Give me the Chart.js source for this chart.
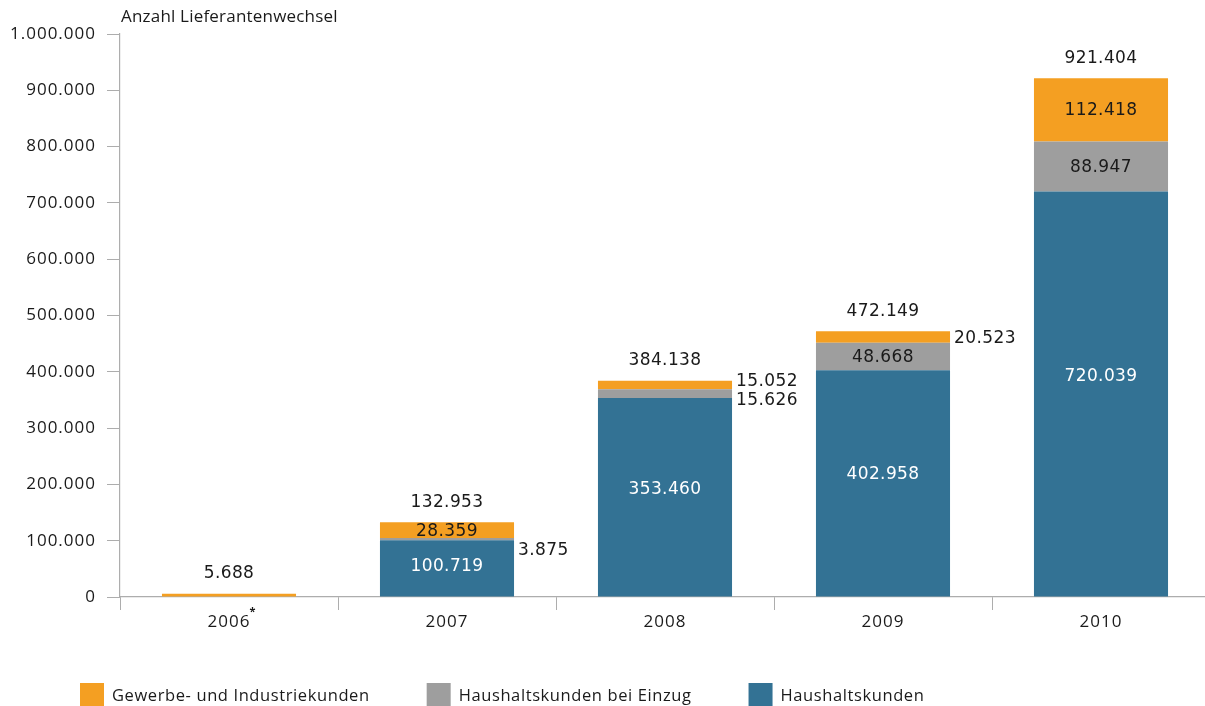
<!DOCTYPE html>
<html><head><meta charset="utf-8">
<script src="https://cdn.jsdelivr.net/npm/chart.js@4.4.1/dist/chart.umd.min.js"></script>
<style>
html,body{margin:0;padding:0;overflow:hidden;background:#fff;}
#wrap{width:1212px;height:706px;}
</style></head><body>
<div id="wrap"><canvas id="c" width="1212" height="706"></canvas></div>
<script>
const categories = ['2006', '2007', '2008', '2009', '2010'];
const categoryNotes = ['*', '', '', '', ''];
const haushaltskunden = [0, 100719, 353460, 402958, 720039];
const haushaltskundenEinzug = [0, 3875, 15626, 48668, 88947];
const gewerbeIndustrie = [5688, 28359, 15052, 20523, 112418];
const totals = [5688, 132953, 384138, 472149, 921404];
const yTickLabels = ['0', '100.000', '200.000', '300.000', '400.000', '500.000', '600.000', '700.000', '800.000', '900.000', '1.000.000'];
const seriesNames = ['Haushaltskunden', 'Haushaltskunden bei Einzug', 'Gewerbe- und Industriekunden'];
const axisTitle = 'Anzahl Lieferantenwechsel';

const COL_BLUE = '#337294', COL_GRAY = '#9e9e9e', COL_ORANGE = '#f49f22';
const AXIS_COL = '#adadad';
const SANS = '"Open Sans", "Noto Sans", sans-serif';
const VAL_FONT = '17px "DejaVu Sans", sans-serif';

function fmt(n) { return String(n).replace(/\B(?=(\d{3})+(?!\d))/g, '.'); }

const spacingPlugin = {
  id: 'spacing',
  beforeDraw(chart) { chart.ctx.letterSpacing = '1px'; },
  afterDraw(chart) { chart.ctx.letterSpacing = '0px'; }
};

const decorPlugin = {
  id: 'decor',
  afterDraw(chart, args, opts) {
    const ctx = chart.ctx;
    const ca = chart.chartArea;
    ctx.save();
    // axis title
    ctx.letterSpacing = '0.2px';
    ctx.fillStyle = '#1a1a1a';
    ctx.font = '17px ' + SANS;
    ctx.textAlign = 'left';
    ctx.textBaseline = 'middle';
    ctx.fillText(axisTitle, ca.left + 1, 17);
    // footnote marks on category labels
    const xs = chart.scales.x;
    ctx.letterSpacing = '1px';
    ctx.font = '17px ' + SANS;
    categories.forEach((c, i) => {
      if (!categoryNotes[i]) return;
      const w = ctx.measureText(c).width;
      const px = xs.getPixelForValue(i);
      ctx.save();
      ctx.font = 'bold 11px ' + SANS;
      ctx.letterSpacing = '0px';
      ctx.fillText(categoryNotes[i], px + w / 2 - 1, 612);
      ctx.restore();
    });
    // legend (order: top of stack first)
    ctx.letterSpacing = '0.6px';
    ctx.font = '16.5px ' + SANS;
    let x = 80;
    const order = [2, 1, 0];
    order.forEach(di => {
      const ds = chart.data.datasets[di];
      ctx.fillStyle = ds.backgroundColor;
      ctx.fillRect(x, 683, 24, 24);
      ctx.fillStyle = '#1a1a1a';
      ctx.textAlign = 'left';
      ctx.textBaseline = 'middle';
      ctx.fillText(ds.label, x + 32, 696);
      x += 32 + ctx.measureText(ds.label).width + 57;
    });
    ctx.restore();
  }
};

const valuePlugin = {
  id: 'values',
  afterDatasetsDraw(chart, args, opts) {
    const ctx = chart.ctx;
    ctx.save();
    ctx.font = VAL_FONT;
    ctx.letterSpacing = '0.4px';
    ctx.textBaseline = 'middle';
    const nCat = categories.length;
    for (let ci = 0; ci < nCat; ci++) {
      const nonzero = chart.data.datasets.filter(d => d.data[ci] > 0).length;
      const outside = [];
      let topY = Infinity, cx = 0, right = 0;
      chart.data.datasets.forEach((ds, di) => {
        const el = chart.getDatasetMeta(di).data[ci];
        const v = ds.data[ci];
        if (!v) return;
        const top = Math.min(el.y, el.base), bot = Math.max(el.y, el.base);
        topY = Math.min(topY, top);
        cx = el.x; right = el.x + el.width / 2;
        if (nonzero < 2) return;
        const h = bot - top;
        if (h >= 14) {
          const frac = di === 0 ? 0.545 : 0.5;
          ctx.fillStyle = di === 0 ? '#ffffff' : '#1a1a1a';
          ctx.textAlign = 'center';
          ctx.fillText(fmt(v), el.x, bot - h * frac + 1);
        } else {
          outside.push({ v, y: (top + bot) / 2 });
        }
      });
      // spread outside labels
      if (outside.length) {
        outside.sort((a, b) => b.y - a.y);
        const gap = 19;
        if (outside.length > 1) {
          const mean = outside.reduce((s, o) => s + o.y, 0) / outside.length;
          outside.forEach((o, k) => { o.y = mean + gap * ((outside.length - 1) / 2 - k); });
        }
        const nudge = (opts.nudge && opts.nudge[ci]) || 0;
        ctx.fillStyle = '#1a1a1a';
        ctx.textAlign = 'left';
        outside.forEach(o => ctx.fillText(fmt(o.v), right + 4, o.y + 2 + nudge));
      }
      ctx.fillStyle = '#1a1a1a';
      ctx.textAlign = 'center';
      ctx.fillText(fmt(totals[ci]), cx, topY - 20);
    }
    ctx.restore();
  }
};

const barPct = 0.615;
new Chart(document.getElementById('c'), {
  type: 'bar',
  data: {
    labels: categories,
    datasets: [
      { label: seriesNames[0], data: haushaltskunden, backgroundColor: COL_BLUE },
      { label: seriesNames[1], data: haushaltskundenEinzug, backgroundColor: COL_GRAY },
      { label: seriesNames[2], data: gewerbeIndustrie, backgroundColor: COL_ORANGE }
    ]
  },
  options: {
    responsive: false,
    devicePixelRatio: 1,
    animation: false,
    layout: { padding: { top: 34, right: 2, left: 0, bottom: 0 } },
    datasets: { bar: { categoryPercentage: 1, barPercentage: barPct, borderWidth: 0 } },
    plugins: {
      legend: { display: false },
      tooltip: { enabled: false },
      values: { nudge: { 1: 9 } }
    },
    scales: {
      x: {
        stacked: true,
        offset: true,
        grid: { display: true, offset: true, drawOnChartArea: false, drawTicks: true, tickLength: 13, color: AXIS_COL, lineWidth: 1 },
        border: { display: true, color: AXIS_COL, width: 1.2 },
        ticks: { color: '#1a1a1a', font: { family: SANS, size: 17 }, padding: 2, maxRotation: 0 },
        afterFit(s) { s.height = 109; }
      },
      y: {
        stacked: true,
        min: 0, max: 1000000,
        grid: { display: true, drawOnChartArea: false, drawTicks: true, tickLength: 13, color: AXIS_COL, lineWidth: 1 },
        border: { display: true, color: AXIS_COL, width: 1.2 },
        ticks: {
          stepSize: 100000,
          color: '#1a1a1a',
          font: { family: SANS, size: 17 },
          padding: 11,
          callback: (v, i) => yTickLabels[i]
        },
        afterFit(s) { s.width = 120; }
      }
    }
  },
  plugins: [spacingPlugin, valuePlugin, decorPlugin]
});
</script>
</body></html>
